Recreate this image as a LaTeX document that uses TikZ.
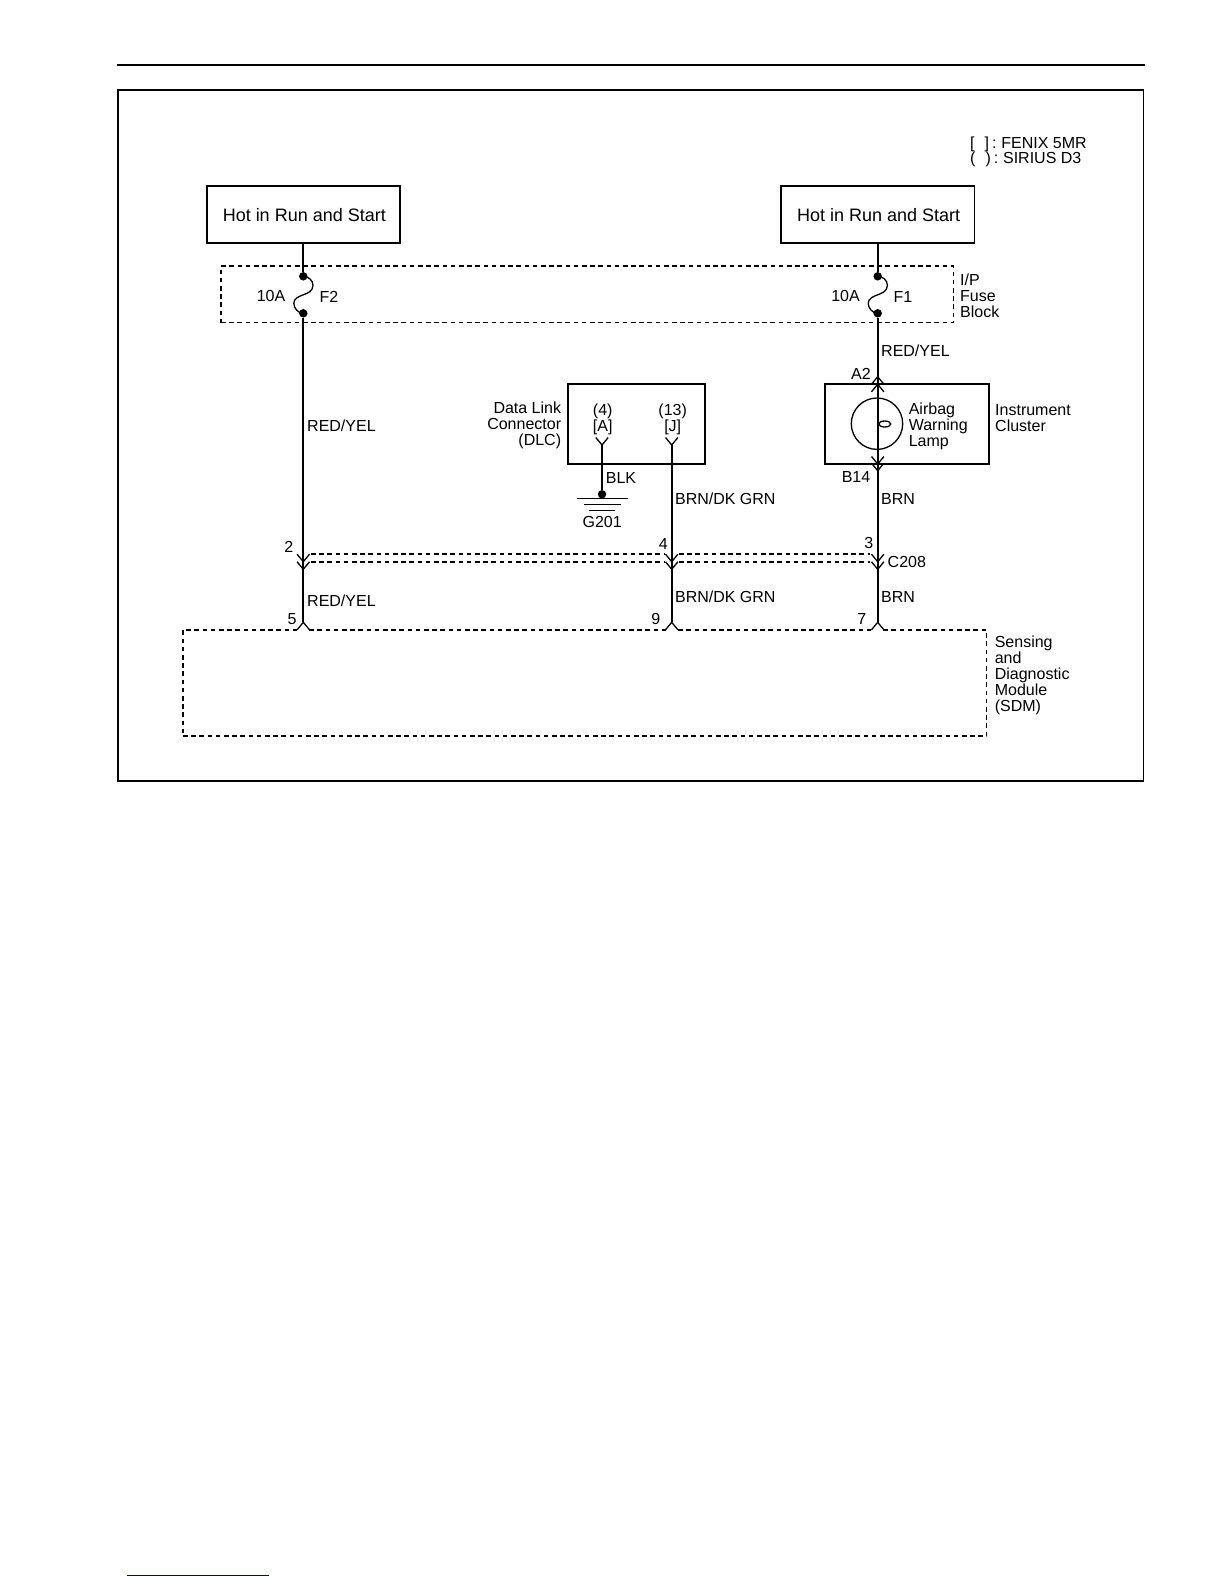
\documentclass[tikz,border=0pt]{standalone}
\usepackage{fontspec}
\setmainfont{Liberation Sans}
\usetikzlibrary{shapes.geometric}
\definecolor{linkblue}{RGB}{0,0,140}
\tikzset{
  wire/.style={line width=1.7pt, line join=miter},
  thinwire/.style={line width=1.3pt},
  dashline/.style={line width=1.3pt, dash pattern=on 4.6pt off 3.6pt},
  solidbox/.style={draw, line width=1.7pt, inner sep=0pt, outer sep=0pt},
  dashbox/.style={draw, line width=1.3pt, dash pattern=on 4.6pt off 3.6pt, inner sep=0pt, outer sep=0pt},
  jdot/.style={circle, fill, inner sep=0pt, minimum size=8.5pt, outer sep=0pt},
  lbl/.style={font=\fontsize{16}{16}\selectfont, inner sep=0pt, align=left},
  lblr/.style={font=\fontsize{16}{16}\selectfont, inner sep=0pt, align=right},
  lblc/.style={font=\fontsize{16}{16}\selectfont, inner sep=0pt, align=center},
  hotbox/.style={solidbox, minimum width=193.3pt, minimum height=57pt, font=\fontsize{18}{18}\selectfont}
}
\begin{document}
\begin{tikzpicture}[x=1pt, y=-1pt]
  \useasboundingbox (0,0) rectangle (1224,1584);

  \draw[line width=2.4pt] (117,65) coordinate (ruleL) -- (1145,65) coordinate (ruleR);
  \draw[linkblue, line width=1pt] (127,1575) coordinate (linkL) -- (269,1575) coordinate (linkR);
  \node[solidbox, minimum width=1025.5pt, minimum height=691pt] (frame) at (630.75,435.5) {};

  \node[lbl, anchor=west] (legendA) at (970,144.4) {[\hspace{10pt}]\hspace{2.9pt}:\hspace{4.9pt}FENIX 5MR};
  \node[lbl, anchor=west] (legendB) at (970,159.8) {(\hspace{10pt})\hspace{2.9pt}:\hspace{4.9pt}SIRIUS D3};

  \node[hotbox] (hotL) at (303.3,214.5) {};
  \node[hotbox] (hotR) at (877.7,214.5) {};
  \node[font=\fontsize{18}{18}\selectfont, inner sep=0pt] (hotLlbl) at (304.3,215.5) {Hot in Run and Start};
  \node[font=\fontsize{18}{18}\selectfont, inner sep=0pt] (hotRlbl) at (878.7,215.5) {Hot in Run and Start};

  \node[dashbox, minimum width=732.5pt, minimum height=56.7pt] (fuseblock) at (587.25,294.35) {};
  \node[lbl, anchor=west] (fuseblocklbl) at (960,296) {I/P\\Fuse\\Block};

  \node[jdot] (f2top) at (303.3,276.3) {};
  \node[jdot] (f2bot) at (303.3,313.3) {};
  \node[jdot] (f1top) at (877.7,276.3) {};
  \node[jdot] (f1bot) at (877.7,313.3) {};
  \node[lbl] (f2amp) at (271,296) {10A};
  \node[lbl] (f2lbl) at (329,297) {F2};
  \node[lbl] (f1amp) at (845.5,296) {10A};
  \node[lbl] (f1lbl) at (903,297) {F1};

  \foreach \a/\b in {f2top/f2bot, f1top/f1bot}{
    \draw[thinwire, shift={(\a.center)}] (0,0) .. controls (5,0) and (9.7,4) .. (9.7,9)
      .. controls (9.7,15) and (4,17) .. (0,18.5)
      .. controls (-4,20) and (-9.5,22) .. (-9.5,27)
      .. controls (-9.5,32) and (-5,37) .. (\b.center);
  }

  \node[solidbox, minimum width=137pt, minimum height=80pt] (dlc) at (636.5,424) {};
  \node[lblr, anchor=east] (dlclbl) at (561.3,425.5) {Data Link\\Connector\\(DLC)};
  \node[lblc] (pinA) at (602.7,419) {(4)\\{[A]}};
  \node[lblc] (pinJ) at (672.7,419) {(13)\\{[J]}};

  \node[solidbox, minimum width=164.3pt, minimum height=80pt] (cluster) at (907.15,424) {};
  \node[lbl, anchor=west] (clusterlbl) at (995,418.5) {Instrument\\Cluster};
  \node[circle, draw, thinwire, inner sep=0pt, minimum size=51.4pt] (lamp) at (877,423.7) {};
  \node[ellipse, draw, thinwire, inner sep=0pt, minimum width=12pt, minimum height=6pt] (filament) at (884.7,424) {};
  \node[lbl, anchor=west] (lamplbl) at (908.6,426) {Airbag\\Warning\\Lamp};

  \coordinate (a2out) at (877.7,376.7);
  \coordinate (a2in) at (877.7,384.3);
  \coordinate (b14in) at (877.7,464);
  \coordinate (b14out) at (877.7,470.7);
  \coordinate (pinAtip) at (602,445);
  \coordinate (pinJtip) at (671.7,445);
  \coordinate (c2up) at (303.3,561.7);
  \coordinate (c2low) at (303.3,569.3);
  \coordinate (c4up) at (671.7,561.7);
  \coordinate (c4low) at (671.7,569.3);
  \coordinate (c3up) at (877.7,561.7);
  \coordinate (c3low) at (877.7,569.3);
  \coordinate (sdm5) at (303.3,622.3);
  \coordinate (sdm9) at (671.7,622.3);
  \coordinate (sdm7) at (877.7,622.3);

  \node[dashbox, minimum width=803.7pt, minimum height=106pt] (sdm) at (584.85,683) {};
  \node[lbl, anchor=west] (sdmlbl) at (994.6,675.5) {Sensing\\and\\Diagnostic\\Module\\(SDM)};

  \draw[wire] (hotL) -- (f2top);
  \draw[wire] (hotR) -- (f1top);
  \draw[wire] (f2bot) -- (c2up) -- (c2low) -- (sdm5);
  \draw[wire] (f1bot) -- (a2out) -- (a2in) -- (b14in) -- (b14out) -- (c3up) -- (c3low) -- (sdm7);
  \draw[wire] (pinJtip) -- (c4up) -- (c4low) -- (sdm9);

  \node[jdot] (gnddot) at (602,494.3) {};
  \draw[wire] (pinAtip) -- (gnddot);
  \draw[thinwire] (576.7,498.3) coordinate (gndAl) -- (628.3,498.3) coordinate (gndAr);
  \draw[thinwire] (584,504.3) coordinate (gndBl) -- (620.7,504.3) coordinate (gndBr);
  \draw[thinwire] (589.3,510.3) coordinate (gndCl) -- (615.3,510.3) coordinate (gndCr);
  \node[lblc] (gndlbl) at (602.2,521.7) {G201};

  \foreach \p in {pinAtip,pinJtip,b14in,b14out,c2up,c2low,c4up,c4low,c3up,c3low}{
    \draw[thinwire] (\p) ++(-6.2,-7.5) -- (\p) -- ++(6.2,-7.5);
  }
  \foreach \p in {sdm5,sdm9,sdm7}{
    \draw[white, line width=2.4pt] (\p) ++(-5,7.7) -- ++(10,0);
  }
  \foreach \p in {a2out,a2in,sdm5,sdm9,sdm7}{
    \draw[thinwire] (\p) ++(-6.2,7.5) -- (\p) -- ++(6.2,7.5);
  }

  \draw[dashline] (311,554) coordinate (busAl) -- (664,554) coordinate (busAm);
  \draw[dashline] (679,554) coordinate (busAn) -- (870,554) coordinate (busAr);
  \draw[dashline] (311,562) coordinate (busBl) -- (664,562) coordinate (busBm);
  \draw[dashline] (679,562) coordinate (busBn) -- (870,562) coordinate (busBr);

  \node[lbl, anchor=west] (wireA) at (307,426) {RED/YEL};
  \node[lbl, anchor=west] (wireB) at (307,601) {RED/YEL};
  \node[lbl, anchor=west] (wireC) at (881,351) {RED/YEL};
  \node[lbl, anchor=west] (wireD) at (605.7,478.3) {BLK};
  \node[lbl, anchor=west] (wireE) at (674.9,498.3) {BRN/DK GRN};
  \node[lbl, anchor=west] (wireF) at (674.9,596.7) {BRN/DK GRN};
  \node[lbl, anchor=west] (wireG) at (881,499.3) {BRN};
  \node[lbl, anchor=west] (wireH) at (881,596.7) {BRN};

  \node[lbl] (a2lbl) at (861,373.7) {A2};
  \node[lbl] (b14lbl) at (856,476.7) {B14};
  \node[lbl, anchor=west] (c208lbl) at (887.5,561.7) {C208};
  \node[lbl] (num2) at (288.8,546.5) {2};
  \node[lbl] (num4) at (663.3,544) {4};
  \node[lbl] (num3) at (868.7,543.3) {3};
  \node[lbl] (num5) at (292,619.3) {5};
  \node[lbl] (num9) at (655.7,619.3) {9};
  \node[lbl] (num7) at (861.7,619.3) {7};
\end{tikzpicture}
\end{document}
